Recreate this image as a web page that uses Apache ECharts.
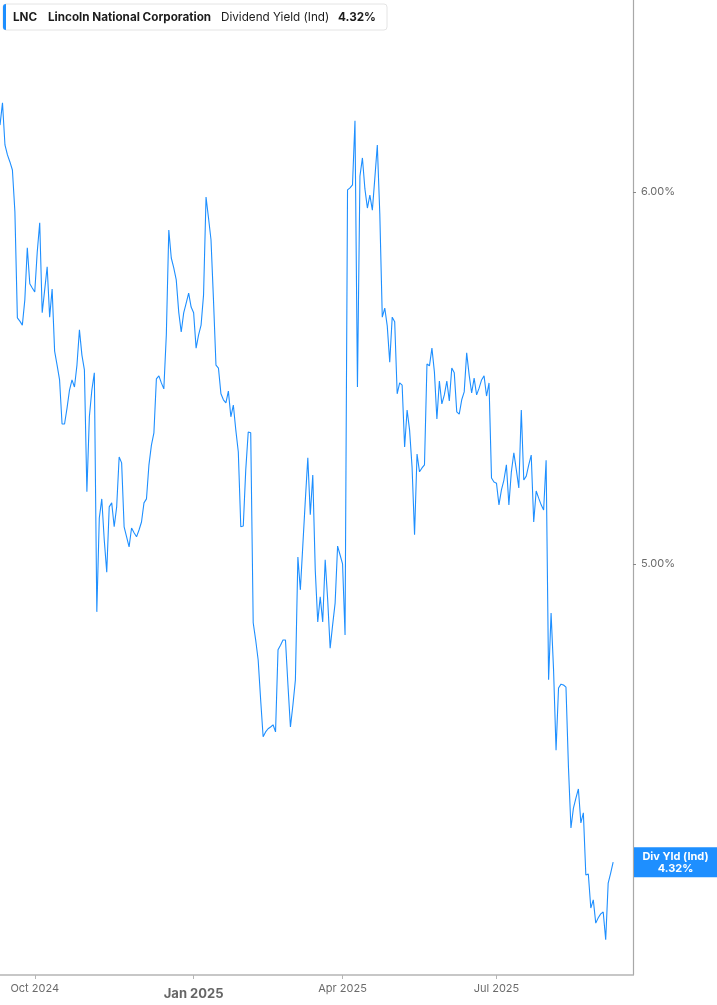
<!DOCTYPE html>
<html><head><meta charset="utf-8">
<script src="https://cdn.jsdelivr.net/npm/echarts@6/dist/echarts.min.js"></script>
<style>html,body{margin:0;padding:0;background:#fff}#c{width:717px;height:1005px}</style>
</head><body><div id="c"></div>
<script>
// trading calendar
const startDate = '2024-09-11';
const categoryCount = 256;
const holidays = ['2024-11-28','2024-12-25','2025-01-01','2025-01-09','2025-01-20','2025-02-17','2025-04-18','2025-05-26','2025-06-19','2025-07-04','2025-09-01'];

// dividend yield (%) per trading day
const divYield = [
6.200, 6.268, 6.140, 6.110, 6.089, 6.065, 5.942, 5.641, 5.632, 5.621,
5.691, 5.838, 5.736, 5.724, 5.713, 5.826, 5.910, 5.655, 5.719, 5.784,
5.643, 5.721, 5.550, 5.512, 5.472, 5.355, 5.355, 5.397, 5.445, 5.472,
5.453, 5.512, 5.608, 5.539, 5.499, 5.180, 5.374, 5.445, 5.491, 4.884,
5.114, 5.162, 5.059, 4.980, 5.142, 5.152, 5.092, 5.142, 5.269, 5.254,
5.092, 5.067, 5.042, 5.089, 5.077, 5.067, 5.084, 5.104, 5.152, 5.162,
5.249, 5.300, 5.332, 5.475, 5.483, 5.464, 5.448, 5.594, 5.889, 5.809,
5.781, 5.747, 5.657, 5.602, 5.655, 5.682, 5.710, 5.671, 5.655, 5.558,
5.594, 5.621, 5.705, 5.985, 5.924, 5.861, 5.691, 5.512, 5.504, 5.435,
5.419, 5.411, 5.442, 5.374, 5.405, 5.339, 5.282, 5.092, 5.094, 5.236,
5.334, 5.332, 4.858, 4.817, 4.770, 4.678, 4.594, 4.605, 4.612, 4.616,
4.621, 4.605, 4.794, 4.805, 4.817, 4.817, 4.712, 4.616, 4.666, 4.724,
5.017, 4.937, 5.047, 5.159, 5.267, 5.122, 5.223, 4.985, 4.860, 4.920,
4.860, 5.010, 4.913, 4.798, 4.853, 4.905, 5.044, 5.022, 5.000, 4.829,
6.006, 6.012, 6.021, 6.213, 5.453, 6.047, 6.101, 6.009, 5.953, 5.991,
5.947, 6.041, 6.140, 5.936, 5.643, 5.668, 5.619, 5.520, 5.643, 5.630,
5.435, 5.464, 5.458, 5.295, 5.392, 5.339, 5.243, 5.072, 5.277, 5.231,
5.241, 5.249, 5.515, 5.510, 5.558, 5.493, 5.368, 5.469, 5.408, 5.432,
5.469, 5.416, 5.504, 5.491, 5.387, 5.381, 5.419, 5.440, 5.545, 5.485,
5.437, 5.477, 5.432, 5.450, 5.472, 5.483, 5.429, 5.464, 5.215, 5.205,
5.202, 5.147, 5.185, 5.210, 5.249, 5.147, 5.231, 5.280, 5.236, 5.190,
5.392, 5.210, 5.220, 5.249, 5.274, 5.104, 5.182, 5.164, 5.147, 5.134,
5.261, 4.724, 4.881, 4.747, 4.564, 4.705, 4.714, 4.712, 4.707, 4.526,
4.393, 4.436, 4.458, 4.478, 4.404, 4.426, 4.293, 4.295, 4.224, 4.241,
4.193, 4.204, 4.212, 4.216, 4.159, 4.276, 4.297, 4.320
];

// axis ticks
const tickDates = ['2024-10-01','2025-01-02','2025-04-01','2025-07-01'];
const tickLabels = ['Oct 2024','Jan 2025','Apr 2025','Jul 2025'];
const boldTick = 'Jan 2025';
const yTicks = [5, 6];
const yMin = 4.0877, yMax = 6.592;

const ticker = 'LNC';
const company = 'Lincoln National Corporation';
const metric = 'Dividend Yield (Ind)';
const shortMetric = 'Div Yld (Ind)';

function tradingDays(start, n) {
  const out = [];
  const d = new Date(start + 'T00:00:00Z');
  while (out.length < n) {
    const wd = d.getUTCDay();
    const s = d.toISOString().slice(0, 10);
    if (wd !== 0 && wd !== 6 && holidays.indexOf(s) < 0) out.push(s);
    d.setUTCDate(d.getUTCDate() + 1);
  }
  return out;
}
const dates = tradingDays(startDate, categoryCount);
const lastVal = divYield[divYield.length - 1];
const lastTxt = lastVal.toFixed(2) + '%';

const BLUE = '#1e8fff';
const FONT = 'Inter';

const chart = echarts.init(document.getElementById('c'), null, {renderer: 'canvas'});
chart.setOption({
  animation: false,
  backgroundColor: '#fff',
  textStyle: {fontFamily: FONT},
  grid: {left: 0, right: 84, top: 0, bottom: 30, containLabel: false},
  xAxis: {
    type: 'category',
    data: dates,
    boundaryGap: false,
    axisLine: {show: true, lineStyle: {color: '#b5b5b5', width: 1.5}},
    axisTick: {show: true, length: 4, lineStyle: {color: '#b5b5b5'},
      interval: (i, v) => tickDates.indexOf(v) >= 0},
    axisLabel: {
      show: true, margin: 8, color: '#6b6b6b', fontSize: 11, fontFamily: FONT,
      interval: (i, v) => tickDates.indexOf(v) >= 0,
      formatter: (v) => {
        const k = tickDates.indexOf(v);
        if (k < 0) return '';
        const t = tickLabels[k];
        return t === boldTick ? '{b|' + t + '}' : t;
      },
      rich: {b: {fontSize: 13, fontWeight: 'bold', color: '#666', padding: [5, 0, 0, 0], fontFamily: FONT}}
    },
    splitLine: {show: false}
  },
  yAxis: {
    type: 'log',
    logBase: 10,
    position: 'right',
    min: yMin,
    max: yMax,
    axisLine: {show: true, lineStyle: {color: '#a8a8a8', width: 1.2}},
    axisTick: {show: true, length: 3, customValues: yTicks, lineStyle: {color: '#888'}},
    axisLabel: {show: true, margin: 8, color: '#6b6b6b', fontSize: 11, fontFamily: FONT,
      customValues: yTicks,
      formatter: (v) => Number(v).toFixed(2) + '%'},
    splitLine: {show: false}
  },
  series: [{
    type: 'line',
    data: divYield,
    showSymbol: false,
    symbol: 'none',
    lineStyle: {color: BLUE, width: 1.1},
    itemStyle: {color: BLUE},
    markLine: {
      silent: true,
      symbol: ['none', 'none'],
      lineStyle: {color: 'rgba(0,0,0,0)', width: 0, opacity: 1},
      data: [{yAxis: lastVal}],
      label: {
        show: true, position: 'end', distance: 1, opacity: 1,
        formatter: '{a|' + shortMetric + '}\n{a|' + lastTxt + '}',
        backgroundColor: BLUE,
        padding: [3, 6, 3, 6],
        rich: {a: {color: '#fff', fontSize: 11, fontWeight: 'bold', width: 71, align: 'center', lineHeight: 12, fontFamily: FONT}}
      }
    }
  }],
  graphic: [
    {type: 'rect', shape: {x: 3, y: 4, width: 384, height: 26, r: 3}, style: {fill: '#fff', stroke: '#e4e4e4', lineWidth: 1}, z: 100},
    {type: 'rect', shape: {x: 3, y: 4, width: 3, height: 26, r: [3, 0, 0, 3]}, style: {fill: BLUE}, z: 101},
    {type: 'text', x: 13, y: 17, style: {text: ticker, font: 'bold 11.7px Inter', fill: '#1c1c1c', textVerticalAlign: 'middle'}, z: 101},
    {type: 'text', x: 48, y: 17, style: {text: company, font: 'bold 11.7px Inter', fill: '#1c1c1c', textVerticalAlign: 'middle'}, z: 101},
    {type: 'text', x: 221, y: 17, style: {text: metric, font: '11.7px Inter', fill: '#1c1c1c', textVerticalAlign: 'middle'}, z: 101},
    {type: 'text', x: 338, y: 17, style: {text: lastTxt, font: 'bold 11.7px Inter', fill: '#1c1c1c', textVerticalAlign: 'middle'}, z: 101}
  ]
});
</script>
</body></html>
